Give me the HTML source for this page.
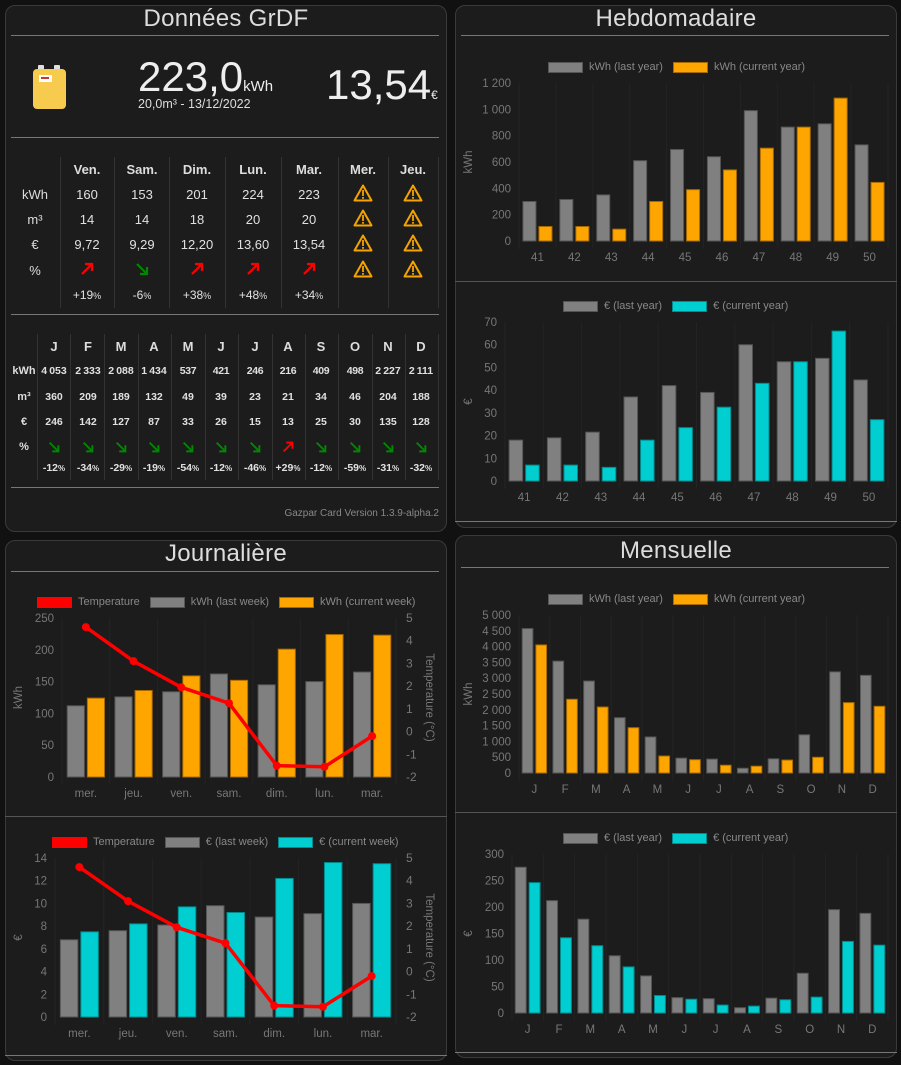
<!DOCTYPE html>
<html><head><meta charset="utf-8">
<style>
body{margin:0;width:901px;height:1065px;background:#111;overflow:hidden;font-family:"Liberation Sans",sans-serif;color:#e0e0e0;position:relative}
.card{position:absolute;background:#1c1c1c;border:1px solid #3a3a3a;border-radius:10px;box-sizing:border-box}
.abs{position:absolute}
.title{position:absolute;font-size:24px;font-weight:300;color:#ddd;text-align:center;letter-spacing:0.3px}
.hr{position:absolute;height:1px;background:#777}
.vl{position:absolute;width:1px;background:#333}
.c{position:absolute;text-align:center;transform:translateX(-50%);white-space:nowrap}
.leg{position:absolute;font-size:11px;color:#888;white-space:nowrap;display:flex;align-items:center}
.sw{display:inline-block;width:35px;height:11px;margin-right:6px;box-sizing:border-box}
</style></head><body>

<div class="card" style="left:5px;top:5px;width:442px;height:527px"></div>
<div class="card" style="left:455px;top:5px;width:442px;height:523px"></div>
<div class="card" style="left:5px;top:540px;width:442px;height:521px"></div>
<div class="card" style="left:455px;top:535px;width:442px;height:523px"></div>

<div class="title" style="left:5px;width:442px;top:5px">Données GrDF</div>
<div class="hr" style="left:11px;width:428px;top:35px"></div>
<div class="title" style="left:455px;width:442px;top:5px">Hebdomadaire</div>
<div class="hr" style="left:461px;width:428px;top:35px"></div>
<div class="hr" style="left:455px;width:442px;top:281px;background:#555"></div>
<div class="hr" style="left:455px;width:442px;top:521px;background:#777"></div>
<div class="title" style="left:5px;width:442px;top:540px">Journalière</div>
<div class="hr" style="left:11px;width:428px;top:571px"></div>
<div class="hr" style="left:5px;width:442px;top:816px;background:#555"></div>
<div class="hr" style="left:5px;width:442px;top:1055px;background:#777"></div>
<div class="title" style="left:455px;width:442px;top:537px">Mensuelle</div>
<div class="hr" style="left:461px;width:428px;top:567px"></div>
<div class="hr" style="left:455px;width:442px;top:812px;background:#555"></div>
<div class="hr" style="left:455px;width:442px;top:1052px;background:#777"></div>

<!-- header -->
<svg class="abs" style="left:32px;top:64px" width="36" height="46" viewBox="0 0 36 46">
<rect x="6" y="1" width="6" height="6" rx="1" fill="#e0e0e0"/><rect x="22" y="1" width="6" height="6" rx="1" fill="#e0e0e0"/>
<rect x="1" y="5" width="33" height="40" rx="4" fill="#f7cb4d"/>
<rect x="7" y="11" width="13" height="7" fill="#fff"/><rect x="9" y="13" width="8" height="2" fill="#c33"/></svg>
<div class="abs" style="left:138px;top:54px;font-size:42px;font-weight:300;color:#eee;line-height:46px">223,0<span style="font-size:15px">kWh</span></div>
<div class="abs" style="left:138px;top:97px;font-size:12.5px;color:#ddd">20,0m³ - 13/12/2022</div>
<div class="abs" style="left:326px;top:62px;font-size:42px;font-weight:300;color:#eee;line-height:46px">13,54<span style="font-size:12px">€</span></div>
<div class="hr" style="left:11px;width:428px;top:137px"></div>
<div class="hr" style="left:11px;width:428px;top:314px"></div>
<div class="hr" style="left:11px;width:428px;top:487px"></div>
<div class="abs" style="right:462px;top:508px;font-size:10px;color:#888">Gazpar Card Version 1.3.9-alpha.2</div>

<div id="tables"></div>
<svg id="charts" class="abs" style="left:0;top:0" width="901" height="1065"></svg>
<div id="legends"></div>

<script>
// ===== daily table data =====
const dDays=["Ven.","Sam.","Dim.","Lun.","Mar.","Mer.","Jeu."];
const dKwh=["160","153","201","224","223"];
const dM3=["14","14","18","20","20"];
const dEur=["9,72","9,29","12,20","13,60","13,54"];
const dUp=[true,false,true,true,true];
const dPct=["+19","-6","+38","+48","+34"];
// ===== monthly table data =====
const mMonths=["J","F","M","A","M","J","J","A","S","O","N","D"];
const mKwh=["4\u202f053","2\u202f333","2\u202f088","1\u202f434","537","421","246","216","409","498","2\u202f227","2\u202f111"];
const mM3=["360","209","189","132","49","39","23","21","34","46","204","188"];
const mEur=["246","142","127","87","33","26","15","13","25","30","135","128"];
const mUp=[false,false,false,false,false,false,false,true,false,false,false,false];
const mPct=["-12","-34","-29","-19","-54","-12","-46","+29","-12","-59","-31","-32"];

// ===== chart data =====
const weeks=["41","42","43","44","45","46","47","48","49","50"];
const wKwhLast=[300,315,350,610,695,640,990,865,890,730];
const wKwhCur=[110,110,90,300,390,540,705,865,1085,445];
const wEurLast=[18,19,21.5,37,42,39,60,52.5,54,44.5];
const wEurCur=[7,7,6,18,23.5,32.5,43,52.5,66,27];
const wKwhTicks=["0","200","400","600","800","1 000","1 200"];
const wEurTicks=["0","10","20","30","40","50","60","70"];
const days=["mer.","jeu.","ven.","sam.","dim.","lun.","mar."];
const jKwhLast=[112,126,134,162,145,150,165];
const jKwhCur=[124,136,159,152,201,224,223];
const jEurLast=[6.8,7.6,8.1,9.8,8.8,9.1,10.0];
const jEurCur=[7.5,8.2,9.7,9.2,12.2,13.6,13.5];
const jTemp=[4.6,3.1,1.95,1.25,-1.5,-1.55,-0.2];
const jKwhTicks=["0","50","100","150","200","250"];
const jEurTicks=["0","2","4","6","8","10","12","14"];
const tempTicks=["-2","-1","0","1","2","3","4","5"];
const months=["J","F","M","A","M","J","J","A","S","O","N","D"];
const mKwhLast=[4570,3540,2910,1750,1140,470,440,150,450,1210,3200,3090];
const mKwhCur=[4053,2333,2088,1434,537,421,246,216,409,498,2227,2111];
const mEurLast=[275,212,177,108,70,29,27,10,28,75,195,188];
const mEurCur=[246,142,127,87,33,26,15,13,25,30,135,128];
const mKwhTicks=["0","500","1 000","1 500","2 000","2 500","3 000","3 500","4 000","4 500","5 000"];
const mEurTicks=["0","50","100","150","200","250","300"];

const T=document.getElementById('tables');
function cell(txt,x,y,style,name){
  const d=document.createElement('div');
  d.className='c';
  
  
  d.style.cssText='left:'+x+'px;top:'+y+'px;'+style;
  d.innerHTML=txt;T.appendChild(d);return d;
}
function vline(x,y,h){const d=document.createElement('div');d.className='vl';d.style.cssText='left:'+x+'px;top:'+y+'px;height:'+h+'px';T.appendChild(d);}
function arrow(up,size){
  const col=up?'#f00':'#080';
  const p=up?'M3 13 L13 3 M6 3 L13 3 L13 10':'M3 3 L13 13 M6 13 L13 13 L13 6';
  return '<svg width="'+size+'" height="'+size+'" viewBox="0 0 16 16"><path d="'+p+'" stroke="'+col+'" stroke-width="2.2" fill="none"/></svg>';
}
const warn='<svg width="20" height="18" viewBox="0 0 20 18"><path d="M10 1.5 L18.5 16.5 L1.5 16.5 Z" stroke="#f5a300" stroke-width="2" fill="none" stroke-linejoin="round"/><rect x="9.1" y="6" width="1.8" height="6" fill="#f5a300"/><rect x="9.1" y="13" width="1.8" height="1.8" fill="#f5a300"/></svg>';

// daily table
const dX=[87,142,197,253,309,363,413];
[60,114,169,225,281,338,388,438].forEach(x=>vline(x,157,151));
const rl=["kWh","m³","€","%"];const rY=[187,212,237,263];
rl.forEach((t,i)=>cell(t,35,rY[i],'font-size:13px;color:#ddd','daily-row-label'));
dDays.forEach((d,i)=>{
  cell(d,dX[i],162,'font-size:13px;font-weight:bold;color:#ddd','daily-header-'+i);
  if(i<5){
    cell(dKwh[i],dX[i],187,'font-size:13px','daily-kwh-'+i);
    cell(dM3[i],dX[i],212,'font-size:13px','daily-m3-'+i);
    cell(dEur[i],dX[i],237,'font-size:13px','daily-eur-'+i);
    cell(arrow(dUp[i],16),dX[i],261,'','daily-trend-'+i);
    cell(dPct[i]+'<span style="font-size:9px">%</span>',dX[i],288,'font-size:12px','daily-pct-'+i);
  } else {
    rY.forEach((y,j)=>cell(warn,dX[i],y-3,'','daily-warning-'+i+'-'+j));
  }
});
// monthly table
const mX=[54,88,121,154,188,221,255,288,321,355,388,421];
[37,70,104,138,171,205,238,272,305,338,372,405,438].forEach(x=>vline(x,334,146));
const mrY=[365,391,416,441];
rl.forEach((t,i)=>cell(t,24,mrY[i],'font-size:11px;font-weight:bold;color:#ddd','monthly-row-label'));
mMonths.forEach((m,i)=>{
  cell(m,mX[i],339,'font-size:13px;font-weight:bold;color:#ddd','monthly-header-'+i);
  cell(mKwh[i],mX[i],365,'font-size:10.5px;font-weight:bold;letter-spacing:-0.3px','monthly-kwh-'+i);
  cell(mM3[i],mX[i],391,'font-size:10.5px;font-weight:bold','monthly-m3-'+i);
  cell(mEur[i],mX[i],416,'font-size:10.5px;font-weight:bold','monthly-eur-'+i);
  cell(arrow(mUp[i],14),mX[i],440,'','monthly-trend-'+i);
  cell(mPct[i]+'<span style="font-size:8px">%</span>',mX[i],462,'font-size:10.5px;font-weight:bold','monthly-pct-'+i);
});

// charts
const S=document.getElementById('charts');const NS='http://www.w3.org/2000/svg';
function el(tag,attrs){const e=document.createElementNS(NS,tag);for(const k in attrs)e.setAttribute(k,attrs[k]);S.appendChild(e);return e;}
function txt(t,x,y,anchor,extra){const e=el('text',Object.assign({x:x,y:y,'text-anchor':anchor,'font-size':11.5,fill:'#777','font-family':'Liberation Sans, sans-serif'},extra||{}));e.textContent=t;return e;}
function chart(o){
  const n=o.cats.length,cw=(o.x1-o.x0)/n;
  const ys=v=>o.yb-(v-o.min)/(o.max-o.min)*(o.yb-o.yt);
  for(let i=0;i<=n;i++){el('line',{x1:o.x0+i*cw,x2:o.x0+i*cw,y1:o.yt,y2:o.yb+8,stroke:'#232323'});}
  o.ticks.forEach((t,i)=>{const v=o.min+i*(o.max-o.min)/(o.ticks.length-1);
    const e=txt(t,o.x0-8,ys(v)+4,'end');
    
    });
  const yl=txt(o.ylabel,0,0,'middle',{transform:'translate('+(o.ylx)+','+((o.yt+o.yb)/2)+') rotate(-90)'});
  
  
  const bw=cw*0.38;
  o.cats.forEach((c,i)=>{
    const cx=o.x0+(i+0.5)*cw;
    const xl=txt(c,cx,o.yb+20,'middle');
    
    
    o.series.forEach((s,k)=>{
      const x=k==0?cx-bw-1:cx+1;const y=ys(s.vals[i]);
      const r=el('rect',{x:x+0.5,y:y,width:bw-1,height:o.yb-y,fill:s.fill,stroke:s.stroke,'stroke-width':1});
      
      
    });
  });
  if(o.temp){
    const ts=v=>o.yb-(v+2)/7*(o.yb-o.yt);
    tempTicks.forEach((t,i)=>{const e=txt(t,o.x1+10,ts(i-2)+4,'start',{'font-size':12});
      
      });
    const rt=txt('Temperature (°C)',0,0,'middle',{transform:'translate('+(o.x1+30)+','+((o.yt+o.yb)/2)+') rotate(90)'});
    
    
    const pts=o.temp.map((v,i)=>(o.x0+(i+0.5)*cw)+','+ts(v)).join(' ');
    const pl=el('polyline',{points:pts,fill:'none',stroke:'#f00','stroke-width':3.5,'stroke-linejoin':'round'});
    
    
    o.temp.forEach((v,i)=>{const c=el('circle',{cx:o.x0+(i+0.5)*cw,cy:ts(v),r:4,fill:'#f00'});
      
      });
  }
}
const G={fill:'#808080',stroke:'#555'},O={fill:'#ffa500',stroke:'#a86a00'},C={fill:'#00ced1',stroke:'#008a8c'};
chart({x0:519,x1:888,yt:83,yb:241,min:0,max:1200,ticks:wKwhTicks,cats:weeks,ylabel:'kWh',ylx:472,
  series:[Object.assign({vals:wKwhLast,name:'kwh-last-year'},G),Object.assign({vals:wKwhCur,name:'kwh-current-year'},O)]});
chart({x0:505,x1:888,yt:322,yb:481,min:0,max:70,ticks:wEurTicks,cats:weeks,ylabel:'€',ylx:472,
  series:[Object.assign({vals:wEurLast,name:'eur-last-year'},G),Object.assign({vals:wEurCur,name:'eur-current-year'},C)]});
chart({x0:62,x1:396,yt:618,yb:777,min:0,max:250,ticks:jKwhTicks,cats:days,ylabel:'kWh',ylx:22,temp:jTemp,
  series:[Object.assign({vals:jKwhLast,name:'kwh-last-week'},G),Object.assign({vals:jKwhCur,name:'kwh-current-week'},O)]});
chart({x0:55,x1:396,yt:858,yb:1017,min:0,max:14,ticks:jEurTicks,cats:days,ylabel:'€',ylx:22,temp:jTemp,
  series:[Object.assign({vals:jEurLast,name:'eur-last-week'},G),Object.assign({vals:jEurCur,name:'eur-current-week'},C)]});
chart({x0:519,x1:888,yt:615,yb:773,min:0,max:5000,ticks:mKwhTicks,cats:months,ylabel:'kWh',ylx:472,
  series:[Object.assign({vals:mKwhLast,name:'kwh-last-year-month'},G),Object.assign({vals:mKwhCur,name:'kwh-current-year-month'},O)]});
chart({x0:512,x1:888,yt:854,yb:1013,min:0,max:300,ticks:mEurTicks,cats:months,ylabel:'€',ylx:472,
  series:[Object.assign({vals:mEurLast,name:'eur-last-year-month'},G),Object.assign({vals:mEurCur,name:'eur-current-year-month'},C)]});

// legends
const L=document.getElementById('legends');
function legend(x,y,items){
  const d=document.createElement('div');d.className='leg';
  
  
  d.style.cssText='left:'+x+'px;top:'+(y-7)+'px';
  d.innerHTML=items.map(it=>'<span style="display:flex;align-items:center;margin-right:10px"><span class="sw" style="background:'+it[1]+';border:1px solid '+it[2]+'"></span>'+it[0]+'</span>').join('');
  L.appendChild(d);
}
legend(548,68,[['kWh (last year)','#808080','#555'],['kWh (current year)','#ffa500','#a86a00']]);
legend(563,307,[['€ (last year)','#808080','#555'],['€ (current year)','#00ced1','#008a8c']]);
legend(37,603,[['Temperature','#f00','#f00'],['kWh (last week)','#808080','#555'],['kWh (current week)','#ffa500','#a86a00']]);
legend(52,843,[['Temperature','#f00','#f00'],['€ (last week)','#808080','#555'],['€ (current week)','#00ced1','#008a8c']]);
legend(548,600,[['kWh (last year)','#808080','#555'],['kWh (current year)','#ffa500','#a86a00']]);
legend(563,839,[['€ (last year)','#808080','#555'],['€ (current year)','#00ced1','#008a8c']]);
</script>
</body></html>
